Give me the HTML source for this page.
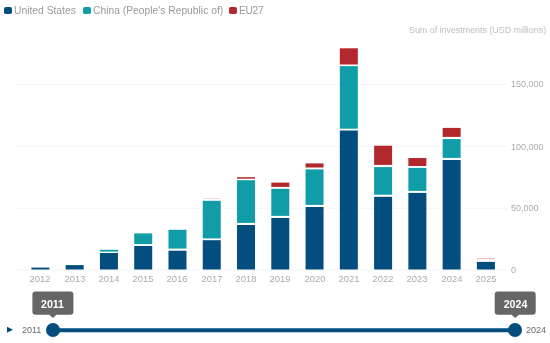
<!DOCTYPE html>
<html><head><meta charset="utf-8"><style>
html,body{margin:0;padding:0;background:#fff;}
.xl,.yl,.lg,.sl,.tt,.yt{will-change:transform;}
body{width:550px;height:343px;position:relative;overflow:hidden;font-family:"Liberation Sans",sans-serif;}
.b{position:absolute;width:18.0px;}
.g{position:absolute;left:16px;width:492px;height:1px;background:#f3f3f3;}
.xl{position:absolute;top:274.2px;width:40px;text-align:center;font-size:9.4px;line-height:10px;color:#ababab;}
.yl{position:absolute;left:511px;font-size:9px;line-height:12px;color:#ababab;white-space:nowrap;}
.lg{position:absolute;top:3.5px;font-size:10.3px;line-height:13px;color:#9a9a9a;white-space:nowrap;}
.sw{position:absolute;top:6.5px;width:7.6px;height:7.4px;border-radius:1.8px;}
.tt{position:absolute;top:291.6px;width:41px;height:23.2px;color:#fff;font-weight:bold;font-size:10.6px;line-height:24.4px;text-align:center;}
.sl{position:absolute;font-size:9px;line-height:12px;color:#6a6a6a;top:324px;}
.hd{position:absolute;width:14.6px;height:14.6px;border-radius:50%;background:#034e7e;top:322.9px;}
</style></head><body>
<div class="sw" style="left:4px;background:#034e7e"></div><div class="lg" style="left:14.3px">United States</div>
<div class="sw" style="left:83px;background:#109da8"></div><div class="lg" style="left:93.2px">China (People's Republic of)</div>
<div class="sw" style="left:229px;background:#b2282d"></div><div class="lg" style="left:239.2px;letter-spacing:-0.35px">EU27</div>
<div class="yt" style="position:absolute;left:409.3px;top:23.5px;font-size:8.9px;line-height:12px;color:#bdbdbd;white-space:nowrap">Sum of investments (USD millions)</div>
<div class="yl" style="top:78.40px">150,000</div>
<div class="yl" style="top:140.50px">100,000</div>
<div class="yl" style="top:202.30px">50,000</div>
<div class="yl" style="top:264.20px">0</div>
<div class="xl" style="left:20.40px">2012</div>
<div class="xl" style="left:54.67px">2013</div>
<div class="xl" style="left:88.94px">2014</div>
<div class="xl" style="left:123.21px">2015</div>
<div class="xl" style="left:157.48px">2016</div>
<div class="xl" style="left:191.75px">2017</div>
<div class="xl" style="left:226.02px">2018</div>
<div class="xl" style="left:260.29px">2019</div>
<div class="xl" style="left:294.56px">2020</div>
<div class="xl" style="left:328.83px">2021</div>
<div class="xl" style="left:363.10px">2022</div>
<div class="xl" style="left:397.37px">2023</div>
<div class="xl" style="left:431.64px">2024</div>
<div class="xl" style="left:465.91px">2025</div>
<svg style="position:absolute;left:0;top:0" width="550" height="343">
<rect x="16" y="84.00" width="492" height="1" fill="#f6f6f6"/>
<rect x="16" y="146.00" width="492" height="1" fill="#f6f6f6"/>
<rect x="16" y="207.80" width="492" height="1" fill="#f6f6f6"/>
<rect x="16" y="269.70" width="492" height="1" fill="#f6f6f6"/>
<rect x="31.40" y="267.60" width="18.0" height="1.90" fill="#034e7e"/>
<rect x="65.67" y="265.10" width="18.0" height="4.40" fill="#034e7e"/>
<rect x="99.94" y="253.00" width="18.0" height="16.50" fill="#034e7e"/>
<rect x="99.94" y="249.80" width="18.0" height="1.80" fill="#109da8"/>
<rect x="134.21" y="246.00" width="18.0" height="23.50" fill="#034e7e"/>
<rect x="134.21" y="233.40" width="18.0" height="10.70" fill="#109da8"/>
<rect x="168.48" y="250.70" width="18.0" height="18.80" fill="#034e7e"/>
<rect x="168.48" y="229.80" width="18.0" height="18.80" fill="#109da8"/>
<rect x="202.75" y="240.20" width="18.0" height="29.30" fill="#034e7e"/>
<rect x="202.75" y="200.80" width="18.0" height="37.60" fill="#109da8"/>
<rect x="202.75" y="198.00" width="18.0" height="1.00" fill="#b2282d" fill-opacity="0.18"/>
<rect x="237.02" y="225.00" width="18.0" height="44.50" fill="#034e7e"/>
<rect x="237.02" y="180.20" width="18.0" height="42.70" fill="#109da8"/>
<rect x="237.02" y="177.20" width="18.0" height="1.50" fill="#b2282d"/>
<rect x="271.29" y="218.00" width="18.0" height="51.50" fill="#034e7e"/>
<rect x="271.29" y="188.80" width="18.0" height="27.10" fill="#109da8"/>
<rect x="271.29" y="182.60" width="18.0" height="4.30" fill="#b2282d"/>
<rect x="305.56" y="207.00" width="18.0" height="62.50" fill="#034e7e"/>
<rect x="305.56" y="169.40" width="18.0" height="35.50" fill="#109da8"/>
<rect x="305.56" y="163.40" width="18.0" height="4.10" fill="#b2282d"/>
<rect x="339.83" y="130.50" width="18.0" height="139.00" fill="#034e7e"/>
<rect x="339.83" y="66.10" width="18.0" height="62.60" fill="#109da8"/>
<rect x="339.83" y="48.30" width="18.0" height="16.20" fill="#b2282d"/>
<rect x="374.10" y="196.80" width="18.0" height="72.70" fill="#034e7e"/>
<rect x="374.10" y="167.10" width="18.0" height="27.60" fill="#109da8"/>
<rect x="374.10" y="145.70" width="18.0" height="19.20" fill="#b2282d"/>
<rect x="408.37" y="192.90" width="18.0" height="76.60" fill="#034e7e"/>
<rect x="408.37" y="167.90" width="18.0" height="23.00" fill="#109da8"/>
<rect x="408.37" y="158.00" width="18.0" height="8.00" fill="#b2282d"/>
<rect x="442.64" y="160.00" width="18.0" height="109.50" fill="#034e7e"/>
<rect x="442.64" y="139.10" width="18.0" height="18.80" fill="#109da8"/>
<rect x="442.64" y="127.90" width="18.0" height="9.00" fill="#b2282d"/>
<rect x="476.91" y="261.90" width="18.0" height="7.60" fill="#034e7e"/>
<rect x="476.91" y="258.20" width="18.0" height="1.00" fill="#b2282d" fill-opacity="0.35"/>
<polygon points="7,326.8 7,332.8 13,329.8" fill="#034e7e"/>
<path d="M35.40,291.60 H70.40 Q73.40,291.60 73.40,294.60 V311.80 Q73.40,314.80 70.40,314.80 H56.50 L52.90,318.10 L49.30,314.80 H35.40 Q32.40,314.80 32.40,311.80 V294.60 Q32.40,291.60 35.40,291.60 Z" fill="#666"/>
<path d="M497.70,291.60 H532.70 Q535.70,291.60 535.70,294.60 V311.80 Q535.70,314.80 532.70,314.80 H518.80 L515.20,318.10 L511.60,314.80 H497.70 Q494.70,314.80 494.70,311.80 V294.60 Q494.70,291.60 497.70,291.60 Z" fill="#666"/>
<line x1="53" y1="330.2" x2="515" y2="330.2" stroke="#034e7e" stroke-width="4"/>
</svg>
<div class="sl" style="left:21.6px">2011</div>
<div class="sl" style="left:525.8px">2024</div>
<div class="hd" style="left:45.6px"></div>
<div class="hd" style="left:507.8px"></div>
<div class="tt" style="left:32.4px">2011</div>
<div class="tt" style="left:494.7px">2024</div>
</body></html>
